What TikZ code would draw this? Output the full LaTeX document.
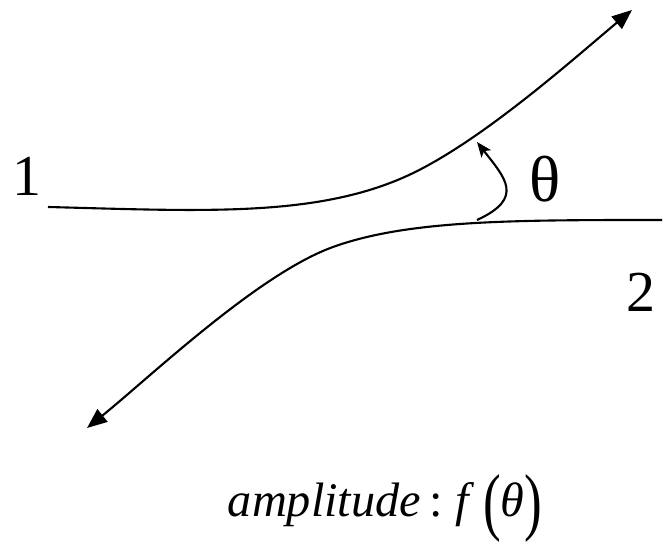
\documentclass[tikz,border=0pt]{standalone}
\usepackage{fontspec}
\setmainfont{Liberation Serif}
\usetikzlibrary{arrows.meta}

\newcommand{\tallparen}[1]{\raisebox{-0.22em}{\scalebox{1.1}[1.55]{#1}}}

\begin{document}
\begin{tikzpicture}[x=0.02cm,y=0.02cm,
    track/.style={line width=1.2pt,-{Triangle[length=0.4cm,width=0.32cm]}},
    angle/.style={line width=1.2pt,-{Stealth[length=0.3cm,width=0.24cm,inset=0.07cm]}},
    label/.style={font=\fontsize{33}{36}\selectfont,inner sep=0pt},
    formula/.style={font=\fontsize{27.5}{30}\selectfont,inner sep=0pt}
]
  \useasboundingbox (0,0) rectangle (663,543);

  % end points of the two tracks
  \coordinate (in1) at (48,336);
  \coordinate (mid1) at (400,364);
  \coordinate (out1) at (632,533);
  \coordinate (in2) at (662,323);
  \coordinate (mid2) at (333,296);
  \coordinate (out2) at (87,115);

  % particle 1, deflected upward
  \draw[track] (in1) .. controls (200,332) and (310,326) .. (mid1)
    .. controls (474,395) and (571,482) .. (out1);

  % particle 2, deflected downward
  \draw[track] (in2) .. controls (512,323) and (408,323) .. (mid2)
    .. controls (258,269) and (149,165) .. (out2);

  % scattering angle
  \coordinate (th0) at (477,323);
  \coordinate (th1) at (477,401);
  \draw[angle] (th0) .. controls (525,345) and (505,365) .. (th1);

  % labels
  \node[label] (n1) at (27,367) {1};
  \node[label] (n2) at (641,251) {2};
  \node[label,font=\fontsize{37}{40}\selectfont] (theta) at (545,364) {θ};
  \node[formula] (amp) at (385,34) {\textit{amplitude}\,:\;\textit{f}\,\tallparen{(}\textit{θ}\tallparen{)}};
\end{tikzpicture}
\end{document}
